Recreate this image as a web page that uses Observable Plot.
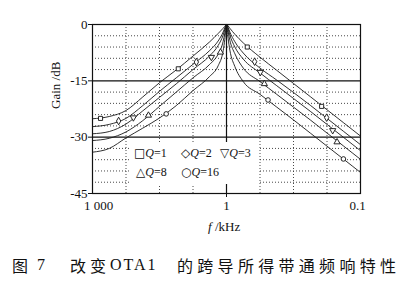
<!DOCTYPE html>
<html><head><meta charset="utf-8">
<script src="https://cdn.jsdelivr.net/npm/d3@7"></script>
<script src="https://cdn.jsdelivr.net/npm/@observablehq/plot@0.6"></script>
<style>
html,body{margin:0;padding:0;background:#fff;}
body{width:409px;height:289px;overflow:hidden;position:relative;font-family:"Liberation Serif",serif;color:#111;}
#chart{position:absolute;left:0;top:0;}
#legend{position:absolute;left:129px;top:142px;width:129px;height:42px;background:#fff;font-size:12px;}
#legend span{position:absolute;white-space:nowrap;line-height:14px;}
#legend .sym{font-family:"DejaVu Sans",sans-serif;font-size:12px;}
#xlabel{position:absolute;top:219px;left:208px;font-size:13px;white-space:nowrap;}
#caption span{position:absolute;top:255px;font-size:16px;white-space:nowrap;line-height:20px;}
.cjk{font-family:"Noto Sans CJK SC",sans-serif;font-weight:400;}
</style></head>
<body>
<div id="chart"></div>
<div id="legend"></div>
<div id="xlabel"><i>f</i> /kHz</div>
<div id="caption"></div>
<script>
// ---- data ----
const xTickPos = [-4, 0, 4];
const xTickLabels = ["1 000", "1", "0.1"];
const yTicks = [0, -15, -30, -45];
const yGridDotted = [-3, -6, -9, -12, -18, -21, -24, -27, -33, -36, -39, -42];
const yGridSolid = [-15, -30];
const xGridDotted = [-3, -2, -1, 1, 2, 3];
const xGridSolid = [0];

// position along the frequency axis, in grid divisions (centre = 1 kHz)
const uPos = [-4,-3.5,-3,-2.5,-2,-1.5,-1,-0.5,-0.25,-0.1,-0.05,0,0.05,0.1,0.25,0.5,1,1.5,2,2.5,3,3.5,4];
const seriesNames = ["Q=1", "Q=2", "Q=3", "Q=8", "Q=16"];
const gainQ1  = [-25.1,-24.5,-22.9,-19.3,-15.5,-12.1,-8.4,-4.6,-2.4,-1.0,-0.5,0,-0.4,-1.0,-2.6,-4.9,-8.7,-12.2,-15.7,-19.2,-22.7,-26.2,-29.7];
const gainQ2  = [-27.2,-26.6,-25.0,-21.6,-17.8,-14.2,-10.6,-6.9,-4.4,-2.0,-0.9,0,-0.8,-2.0,-4.6,-7.6,-11.6,-14.8,-18.1,-21.5,-25.0,-28.5,-32.0];
const gainQ3  = [-29.1,-28.5,-26.5,-23.0,-19.4,-15.8,-12.0,-8.3,-5.6,-2.8,-1.3,0,-1.2,-2.8,-6.0,-9.2,-12.9,-16.3,-19.7,-23.1,-26.6,-30.1,-33.6];
const gainQ8  = [-30.9,-30.3,-28.6,-25.6,-21.8,-18.0,-14.2,-10.6,-7.9,-4.5,-2.3,0,-2.0,-4.2,-7.8,-11.6,-15.2,-18.6,-22.0,-25.4,-28.9,-32.4,-35.9];
const gainQ16 = [-34.0,-33.0,-30.2,-27.6,-24.9,-21.6,-17.6,-13.8,-11.0,-7.0,-4.0,0,-3.8,-6.8,-11.2,-15.2,-18.6,-22.0,-25.4,-28.9,-32.4,-35.9,-39.4];

// measured points (markers)
const markQ1  = {u:[-3.76,-1.44,0.62,2.84], g:[-25.0,-11.8,-6.0,-21.8]};
const markQ2  = {u:[-3.22,-0.90,0.84,2.99], g:[-25.7,-10.0,-9.9,-24.8]};
const markQ3  = {u:[-2.78,-0.45,1.01,3.17], g:[-24.8,-8.7,-12.7,-28.2]};
const markQ8  = {u:[-2.33,-0.18,1.13,3.30], g:[-24.2,-7.4,-15.8,-31.3]};
const markQ16 = {u:[-1.80,1.24,3.49], g:[-23.8,-20.1,-35.8]};

const captionFig = "图 7";
const captionText = "改变 OTA1 的跨导所得带通频响特性";

// ---- build tables ----
const gains = [gainQ1, gainQ2, gainQ3, gainQ8, gainQ16];
const curves = gains.flatMap((g, k) => uPos.map((u, i) => ({series: seriesNames[k], u, g: g[i]})));
const marks = [markQ1, markQ2, markQ3, markQ8, markQ16];
const symbols = ["square", "diamond", "triangle", "triangle", "circle"];
const rotations = [0, 0, 180, 0, 0];
const points = marks.flatMap((m, k) => m.u.map((u, i) => ({series: seriesNames[k], u, g: m.g[i], sym: symbols[k], rot: rotations[k]})));

const xAxisOpts = {tickFormat: d => xTickLabels[xTickPos.indexOf(d)], tickPadding: 3, label: null, fontSize: 13};
const chart = Plot.plot({
  width: 409, height: 240,
  marginLeft: 92, marginRight: 49, marginTop: 24, marginBottom: 47,
  x: {type: "linear", domain: [-4, 4]},
  y: {domain: [-45, 0]},
  style: {fontFamily: "Liberation Serif, serif", fontSize: "12px", color: "#111", background: "transparent"},
  marks: [
    Plot.ruleY(yGridDotted, {stroke: "#333", strokeWidth: 0.9, strokeDasharray: "1,2"}),
    Plot.ruleX(xGridDotted, {stroke: "#333", strokeWidth: 0.9, strokeDasharray: "1,2"}),
    Plot.ruleY(yGridSolid, {stroke: "#111", strokeWidth: 1.2}),
    Plot.ruleX(xGridSolid, {stroke: "#111", strokeWidth: 1.2}),
    Plot.line(curves, {x: "u", y: "g", z: "series", stroke: "#1a1a1a", strokeWidth: 0.9, curve: "monotone-x"}),
    Plot.dot(points, {x: "u", y: "g", symbol: "sym", rotate: "rot", r: 2.3, fill: "white", stroke: "#111", strokeWidth: 0.9}),
    Plot.frame({stroke: "#111", strokeWidth: 1.2}),
    Plot.axisY({ticks: yTicks, tickFormat: d => String(d), tickSize: 4, tickPadding: 1, label: null, fontSize: 13}),
    Plot.axisX({...xAxisOpts, ticks: [xTickPos[0]], tickSize: 0, tickPadding: 7, dx: 6}),
    Plot.axisX({...xAxisOpts, ticks: [xTickPos[1]], tickSize: 4}),
    Plot.axisX({...xAxisOpts, ticks: [xTickPos[2]], tickSize: 0, tickPadding: 7, dx: -3}),
    Plot.text(["Gain /dB"], {frameAnchor: "left", dx: -37, rotate: -90, fontSize: 13})
  ]
});
document.getElementById("chart").append(chart);

// legend (HTML)
const legendItems = [
  {sym: "□", name: seriesNames[0], x: 5, y: 4},
  {sym: "◇", name: seriesNames[1], x: 52, y: 4},
  {sym: "▽", name: seriesNames[2], x: 91, y: 4},
  {sym: "△", name: seriesNames[3], x: 7, y: 23},
  {sym: "○", name: seriesNames[4], x: 52, y: 23}
];
const leg = document.getElementById("legend");
legendItems.forEach(it => {
  const s = document.createElement("span");
  s.style.left = it.x + "px"; s.style.top = it.y + "px";
  const [q, v] = it.name.split("=");
  s.innerHTML = `<span class="sym" style="position:static">${it.sym}</span><i>${q}</i>=${v}`;
  leg.append(s);
});

// caption
const cap = document.getElementById("caption");
const parts = captionText.split(" ");
const pieces = [
  {t: captionFig.split(" ")[0], x: 12, cls: "cjk", ls: 0},
  {t: captionFig.split(" ")[1], x: 37, cls: "", ls: 0},
  {t: parts[0], x: 70, cls: "cjk", ls: 4},
  {t: parts[1], x: 110, cls: "", ls: 2},
  {t: parts[2], x: 177, cls: "cjk", ls: 4.3}
];
pieces.forEach(p => {
  const s = document.createElement("span");
  s.textContent = p.t; s.className = p.cls;
  s.style.left = p.x + "px"; s.style.letterSpacing = p.ls + "px";
  cap.append(s);
});
</script>
</body></html>
